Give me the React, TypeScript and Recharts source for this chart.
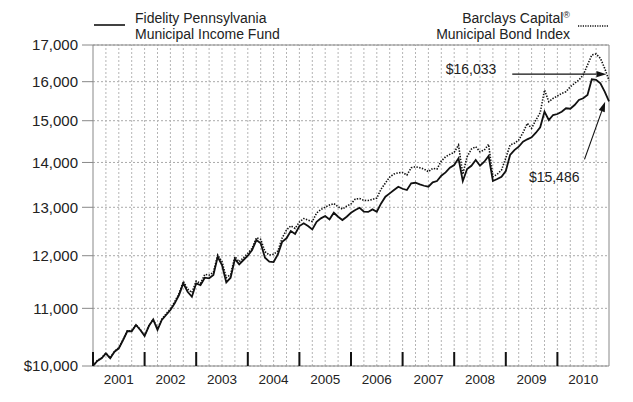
import React from 'react';
import { LineChart, Line, XAxis, YAxis, CartesianGrid, ReferenceLine } from 'recharts';

const FONT = '"Liberation Sans", Arial, Helvetica, sans-serif';

// Month index: 0 = Dec 31, 2000 ... 120 = Dec 31, 2010
const fundValues = [
  10000, 10083, 10128, 10212, 10128, 10239, 10297, 10439, 10595, 10590,
  10701, 10613, 10508, 10683, 10802, 10613, 10790, 10879, 10970, 11092,
  11245, 11464, 11306, 11213, 11464, 11432, 11571, 11560, 11622, 11980,
  11817, 11483, 11571, 11935, 11831, 11915, 12000, 12113, 12315, 12248,
  11960, 11882, 11875, 12028, 12280, 12350, 12500, 12438, 12603, 12660,
  12603, 12534, 12693, 12764, 12813, 12743, 12883, 12798, 12728, 12798,
  12883, 12940, 12990, 12905, 12900, 12955, 12905, 13084, 13229, 13303,
  13376, 13449, 13404, 13376, 13524, 13538, 13502, 13471, 13449, 13547,
  13576, 13696, 13773, 13878, 13940, 14095, 13576, 13848, 13924, 14056,
  13924, 14016, 14149, 13576, 13621, 13673, 13803, 14173, 14290, 14369,
  14488, 14546, 14594, 14705, 14837, 15225, 15017, 15142, 15167, 15225,
  15311, 15300, 15394, 15522, 15566, 15651, 16063, 16050, 15957, 15738,
  15486,
];

const indexValues = [
  10000, 10090, 10135, 10215, 10135, 10245, 10305, 10445, 10600, 10600,
  10705, 10620, 10520, 10690, 10800, 10640, 10805, 10900, 10990, 11120,
  11270, 11500, 11360, 11290, 11507, 11464, 11635, 11622, 11674, 12014,
  11882, 11571, 11635, 11980, 11882, 11960, 12048, 12147, 12362, 12330,
  12080, 12014, 12028, 12094, 12360, 12520, 12607, 12555, 12687, 12760,
  12728, 12697, 12877, 12952, 13004, 13048, 13080, 13011, 12962, 13026,
  13073, 13178, 13189, 13150, 13146, 13170, 13200, 13398, 13532, 13667,
  13735, 13764, 13770, 13712, 13878, 13901, 13878, 13848, 13787, 13864,
  13848, 14033, 14133, 14189, 14236, 14409, 13728, 14133, 14314, 14369,
  14250, 14290, 14425, 13673, 13728, 13826, 14103, 14409, 14450, 14529,
  14705, 14935, 14812, 15017, 15199, 15781, 15479, 15566, 15625, 15695,
  15738, 15868, 15957, 16045, 16178, 16447, 16722, 16750, 16631, 16357,
  16033,
];

const yearLabels = ['2001', '2002', '2003', '2004', '2005', '2006', '2007', '2008', '2009', '2010'];
const yTicks = [10000, 11000, 12000, 13000, 14000, 15000, 16000, 17000];
const yearStartTicks = [0, 12, 24, 36, 48, 60, 72, 84, 96, 108];
const yearMidTicks = [6, 18, 30, 42, 54, 66, 78, 90, 102, 114];
const quarterLines = [
  3, 6, 9, 12, 15, 18, 21, 24, 27, 30, 33, 36, 39, 42, 45, 48, 51, 54, 57, 60,
  63, 66, 69, 72, 75, 78, 81, 84, 87, 90, 93, 96, 99, 102, 105, 108, 111, 114, 117,
];

const indexEndLabel = '$16,033';
const fundEndLabel = '$15,486';
const indexArrow = [{ x: 97.5, y: 16200 }, { x: 119.4, y: 16200 }];
const fundArrow = [{ x: 114.3, y: 14072 }, { x: 119.1, y: 15479 }];

const data = fundValues.map((v, i) => ({ m: i, fund: v, index: indexValues[i] }));
const xTicks = [...yearStartTicks, ...yearMidTicks].sort((a, b) => a - b);

const fmtY = (v: number) => (v === 10000 ? '$10,000' : v.toLocaleString('en-US'));

const renderYearTick = (p: any) => {
  const v = p.payload.value;
  if (v % 12 === 0) {
    return <line x1={p.x} x2={p.x} y1={p.y} y2={p.y - 14} stroke="#111" strokeWidth={2} />;
  }
  return (
    <text x={p.x} y={p.y + 17.5} textAnchor="middle" fontSize={13.5} fill="#222" fontFamily={FONT}>
      {yearLabels[(v - 6) / 12]}
    </text>
  );
};

const makeArrow = (label: string, dx: number, dy: number) => (props: any) => {
  const { x1, y1, x2, y2 } = props;
  const ang = Math.atan2(y2 - y1, x2 - x1);
  const L = 10;
  const W = 3.2;
  const bx = x2 - L * Math.cos(ang);
  const by = y2 - L * Math.sin(ang);
  const px = -Math.sin(ang) * W;
  const py = Math.cos(ang) * W;
  return (
    <g>
      <line x1={x1} y1={y1} x2={bx} y2={by} stroke="#111" strokeWidth={1.1} />
      <polygon points={`${x2},${y2} ${bx + px},${by + py} ${bx - px},${by - py}`} fill="#111" />
      <text x={x1 + dx} y={y1 + dy} textAnchor="end" fontSize={14} fill="#222" fontFamily={FONT}>
        {label}
      </text>
    </g>
  );
};

export default function App() {
  return (
    <div style={{ position: 'absolute', left: 0, top: 0, width: 633, height: 402, background: '#fff', fontFamily: FONT }}>
      <LineChart width={633} height={402} data={data} margin={{ top: 45, right: 24, bottom: 10, left: 0 }}>
        <CartesianGrid vertical={false} stroke="#aaa" strokeDasharray="2 2" />
        {quarterLines.map((q) => (
          <ReferenceLine key={q} x={q} stroke="#b5b5b5" strokeDasharray="2 2" ifOverflow="visible" />
        ))}
        <ReferenceLine y={17000} stroke="#888" ifOverflow="visible" />
        <ReferenceLine x={120} stroke="#888" ifOverflow="visible" />
        <XAxis
          dataKey="m"
          type="number"
          domain={[0, 120]}
          ticks={xTicks}
          interval={0}
          tickLine={false}
          tickSize={0}
          tickMargin={0}
          height={26}
          axisLine={{ stroke: '#888' }}
          tick={renderYearTick}
        />
        <YAxis
          type="number"
          scale="log"
          domain={[10000, 17000]}
          ticks={yTicks}
          interval={0}
          allowDataOverflow
          width={93}
          tickSize={11}
          tickMargin={4}
          tick={{ fontSize: 15, fill: '#222', fontFamily: FONT }}
          tickLine={{ stroke: '#888' }}
          axisLine={{ stroke: '#888' }}
          tickFormatter={fmtY}
        />
        <Line
          dataKey="index"
          type="linear"
          stroke="#111"
          strokeWidth={1.6}
          strokeDasharray="1.4 1.4"
          dot={false}
          isAnimationActive={false}
        />
        <Line dataKey="fund" type="linear" stroke="#111" strokeWidth={1.8} dot={false} isAnimationActive={false} />
        <ReferenceLine segment={indexArrow} ifOverflow="visible" shape={makeArrow(indexEndLabel, -16, 0)} />
        <ReferenceLine segment={fundArrow} ifOverflow="visible" shape={makeArrow(fundEndLabel, -5, 22.4)} />
      </LineChart>
      <svg style={{ position: 'absolute', left: 0, top: 0 }} width={633} height={44}>
        <line x1={94} x2={125} y1={25} y2={25} stroke="#111" strokeWidth={1.6} />
        <text x={135} y={23} fontSize={14} fill="#222" fontFamily={FONT}>Fidelity Pennsylvania</text>
        <text x={135} y={38.7} fontSize={14} fill="#222" fontFamily={FONT}>Municipal Income Fund</text>
        <text x={570} y={23} fontSize={14} fill="#222" fontFamily={FONT} textAnchor="end">
          Barclays Capital<tspan fontSize={9} dy={-5}>®</tspan>
        </text>
        <text x={570} y={38.7} fontSize={14} fill="#222" fontFamily={FONT} textAnchor="end">Municipal Bond Index</text>
        <line x1={578} x2={608} y1={26} y2={26} stroke="#111" strokeWidth={1.4} strokeDasharray="1.2 1.2" />
      </svg>
    </div>
  );
}
